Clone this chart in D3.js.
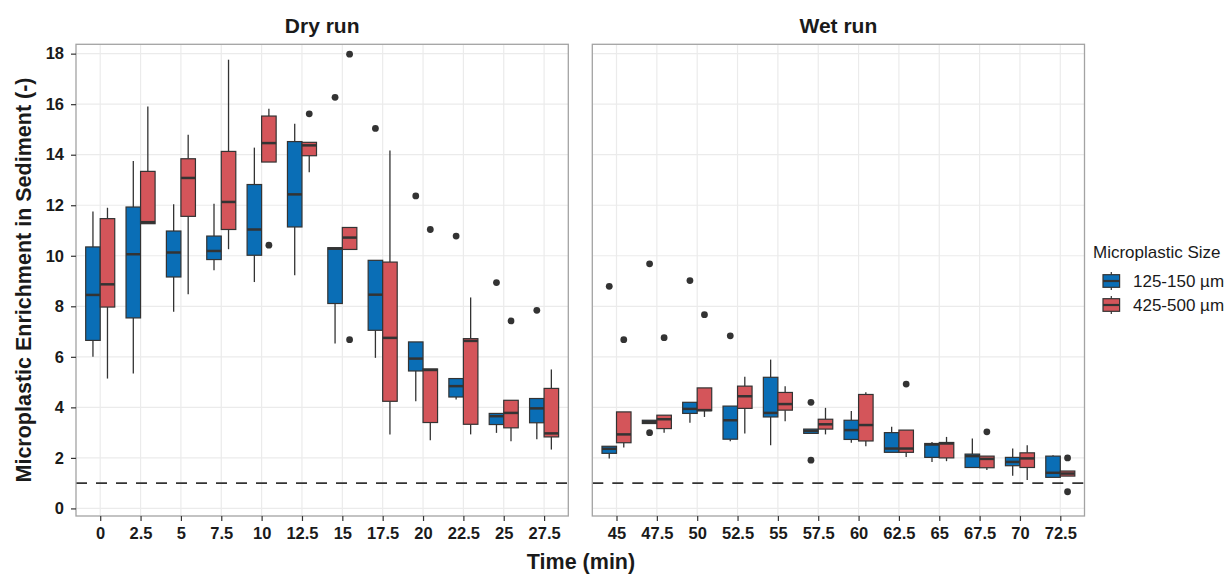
<!DOCTYPE html>
<html>
<head>
<meta charset="utf-8">
<script src="https://cdn.jsdelivr.net/npm/d3@7"></script>
<style>
  body { margin: 0; background: #fff; }
  svg { display: block; font-family: "Liberation Sans", Arial, sans-serif; }
</style>
</head>
<body>
<svg id="chart" width="1224" height="577"></svg>
<script>
// ---------------- DATA ----------------
const seriesNames = ["125-150 µm", "425-500 µm"];
const panelTitles = ["Dry run", "Wet run"];
const yTicks = [0, 2, 4, 6, 8, 10, 12, 14, 16, 18];
const referenceLevel = 1;

const dryTimes = ["0", "2.5", "5", "7.5", "10", "12.5", "15", "17.5", "20", "22.5", "25", "27.5"];
// [whisker low, q1, median, q3, whisker high]
const dryBlue = [
  [6.0, 6.65, 8.45, 10.35, 11.75],
  [5.34, 7.54, 10.06, 11.93, 13.75],
  [7.78, 9.16, 10.13, 10.98, 12.04],
  [9.43, 9.85, 10.19, 10.78, 12.06],
  [8.96, 10.02, 11.04, 12.82, 14.28],
  [9.23, 11.14, 12.43, 14.52, 15.23],
  [6.53, 8.11, 10.28, 10.32, 10.32],
  [5.96, 7.05, 8.46, 9.82, 9.82],
  [4.24, 5.44, 5.93, 6.59, 6.59],
  [4.31, 4.41, 4.84, 5.14, 5.14],
  [2.99, 3.32, 3.65, 3.76, 3.76],
  [2.74, 3.39, 3.96, 4.35, 4.35]
];
const dryRed = [
  [5.14, 7.97, 8.87, 11.47, 11.9],
  [11.27, 11.27, 11.33, 13.34, 15.91],
  [8.48, 11.56, 13.08, 13.84, 14.79],
  [10.26, 11.04, 12.13, 14.13, 17.76],
  [13.71, 13.71, 14.46, 15.53, 15.82],
  [13.31, 13.96, 14.37, 14.49, 14.49],
  [10.25, 10.25, 10.72, 11.12, 11.12],
  [2.93, 4.24, 6.75, 9.75, 14.17],
  [2.7, 3.4, 5.48, 5.52, 5.52],
  [2.93, 3.33, 6.63, 6.72, 8.35],
  [2.66, 3.19, 3.78, 4.28, 4.28],
  [2.33, 2.83, 2.97, 4.75, 5.5]
];
const dryBlueOut = [[], [], [], [], [], [], [16.27], [15.04], [12.37], [10.78], [8.94], [7.84]];
const dryRedOut  = [[], [], [], [], [10.42], [15.62], [17.98, 6.68], [], [11.04], [], [7.42], []];

const wetTimes = ["45", "47.5", "50", "52.5", "55", "57.5", "60", "62.5", "65", "67.5", "70", "72.5"];
const wetBlue = [
  [1.98, 2.18, 2.36, 2.46, 2.46],
  [3.36, 3.36, 3.43, 3.49, 3.49],
  [3.39, 3.76, 3.94, 4.2, 4.2],
  [2.66, 2.74, 3.49, 4.05, 4.05],
  [2.5, 3.62, 3.78, 5.19, 5.89],
  [2.97, 2.97, 3.07, 3.14, 3.14],
  [2.6, 2.73, 3.1, 3.49, 3.86],
  [2.22, 2.22, 2.37, 3.0, 3.23],
  [1.84, 2.02, 2.53, 2.57, 2.63],
  [1.62, 1.62, 2.07, 2.15, 2.77],
  [1.29, 1.69, 1.84, 2.02, 2.37],
  [1.23, 1.23, 1.41, 2.07, 2.1]
];
const wetRed = [
  [2.41, 2.6, 2.93, 3.82, 3.82],
  [3.0, 3.16, 3.53, 3.69, 3.69],
  [3.62, 3.87, 3.89, 4.77, 4.77],
  [2.97, 3.96, 4.44, 4.84, 5.21],
  [3.45, 3.89, 4.13, 4.59, 4.84],
  [2.93, 3.14, 3.33, 3.53, 3.98],
  [2.46, 2.67, 3.3, 4.51, 4.6],
  [2.04, 2.22, 2.37, 3.1, 3.1],
  [1.87, 2.0, 2.57, 2.61, 2.83],
  [1.52, 1.61, 1.96, 2.07, 2.07],
  [1.12, 1.62, 1.98, 2.2, 2.5],
  [1.28, 1.28, 1.38, 1.48, 1.48]
];
const wetBlueOut = [[8.79], [9.68, 3.0], [9.02], [6.83], [], [4.2, 1.91], [], [], [], [], [], []];
const wetRedOut  = [[6.68], [6.76], [7.67], [], [], [], [], [4.92], [], [3.03], [], [2.0, 0.66]];

// ---------------- STYLE ----------------
const colors = ["#0A6EB6", "#D4555A"];
const ink = "#333333";
const textColor = "#1a1a1a";
const gridColor = "#EBEBEB";
const borderColor = "#A3A3A3";
const FONT = "Liberation Sans, Arial, sans-serif";

const svg = d3.select("#chart");
const panelTop = 44.3, panelBottom = 516;
const y = d3.scaleLinear().domain([-0.3, 18.37]).range([panelBottom, panelTop]);

const panels = [
  { title: panelTitles[0], times: dryTimes, series: [dryBlue, dryRed], outs: [dryBlueOut, dryRedOut], x0: 76, x1: 568.3 },
  { title: panelTitles[1], times: wetTimes, series: [wetBlue, wetRed], outs: [wetBlueOut, wetRedOut], x0: 592.3, x1: 1084.5 }
];

panels.forEach((p, pi) => {
  const x = d3.scalePoint().domain(p.times).range([p.x0, p.x1]).padding(0.6);
  const step = x.step();
  const bw = step * 0.36;
  const g = svg.append("g");

  g.append("rect").attr("x", p.x0).attr("y", panelTop).attr("width", p.x1 - p.x0).attr("height", panelBottom - panelTop).attr("fill", "#fff");

  g.selectAll(".hg").data(yTicks).join("line")
    .attr("x1", p.x0).attr("x2", p.x1)
    .attr("y1", d => y(d)).attr("y2", d => y(d))
    .attr("stroke", gridColor).attr("stroke-width", 1.2);
  g.selectAll(".vg").data(p.times).join("line")
    .attr("x1", d => x(d)).attr("x2", d => x(d))
    .attr("y1", panelTop).attr("y2", panelBottom)
    .attr("stroke", gridColor).attr("stroke-width", 1.2);

  g.append("line")
    .attr("x1", p.x0).attr("x2", p.x1)
    .attr("y1", y(referenceLevel)).attr("y2", y(referenceLevel))
    .attr("stroke", ink).attr("stroke-width", 1.7)
    .attr("stroke-dasharray", "11,9");

  p.series.forEach((ser, si) => {
    const off = (si === 0 ? -1 : 1) * bw / 2;
    const bg = g.append("g");
    ser.forEach((s, i) => {
      const cx = x(p.times[i]) + off;
      const [lo, q1, med, q3, hi] = s;
      bg.append("line").attr("x1", cx).attr("x2", cx).attr("y1", y(hi)).attr("y2", y(q3))
        .attr("stroke", ink).attr("stroke-width", 1.3);
      bg.append("line").attr("x1", cx).attr("x2", cx).attr("y1", y(q1)).attr("y2", y(lo))
        .attr("stroke", ink).attr("stroke-width", 1.3);
      bg.append("rect").attr("x", cx - bw / 2).attr("y", y(q3))
        .attr("width", bw).attr("height", Math.max(0.5, y(q1) - y(q3)))
        .attr("fill", colors[si]).attr("stroke", ink).attr("stroke-width", 1.2);
      bg.append("line").attr("x1", cx - bw / 2).attr("x2", cx + bw / 2)
        .attr("y1", y(med)).attr("y2", y(med))
        .attr("stroke", ink).attr("stroke-width", 2.5);
      p.outs[si][i].forEach(v => {
        bg.append("circle").attr("cx", cx).attr("cy", y(v)).attr("r", 3.4).attr("fill", ink);
      });
    });
  });

  g.append("rect").attr("x", p.x0).attr("y", panelTop).attr("width", p.x1 - p.x0).attr("height", panelBottom - panelTop)
    .attr("fill", "none").attr("stroke", borderColor).attr("stroke-width", 1.3);

  const xa = g.append("g").attr("transform", `translate(0,${panelBottom})`)
    .call(d3.axisBottom(x).tickSize(5).tickPadding(6));
  xa.select(".domain").remove();
  xa.selectAll(".tick line").attr("stroke", ink).attr("stroke-width", 1.2);
  xa.selectAll(".tick text").attr("fill", textColor).attr("font-size", 16.5).attr("font-weight", "bold")
    .attr("font-family", FONT);

  if (pi === 0) {
    const ya = g.append("g").attr("transform", `translate(${p.x0},0)`)
      .call(d3.axisLeft(y).tickValues(yTicks).tickSize(5).tickPadding(7));
    ya.select(".domain").remove();
    ya.selectAll(".tick line").attr("stroke", ink).attr("stroke-width", 1.2);
    ya.selectAll(".tick text").attr("fill", textColor).attr("font-size", 16.5).attr("font-weight", "bold")
      .attr("font-family", FONT);
  }

  g.append("text").attr("x", (p.x0 + p.x1) / 2).attr("y", 32.5)
    .attr("text-anchor", "middle").attr("font-size", 21).attr("font-weight", "bold")
    .attr("fill", textColor).text(p.title);
});

svg.append("text").attr("x", 581).attr("y", 569)
  .attr("text-anchor", "middle").attr("font-size", 21.5).attr("font-weight", "bold")
  .attr("fill", textColor).text("Time (min)");
svg.append("text").attr("transform", "translate(31,280) rotate(-90)")
  .attr("text-anchor", "middle").attr("font-size", 21.5).attr("font-weight", "bold")
  .attr("fill", textColor).text("Microplastic Enrichment in Sediment (-)");

const lg = svg.append("g");
lg.append("text").attr("x", 1093).attr("y", 257.5).attr("font-size", 17).attr("fill", textColor).text("Microplastic Size");
seriesNames.forEach((n, i) => {
  const cy = 281 + i * 24;
  const kx = 1103;
  lg.append("line").attr("x1", kx + 8.3).attr("x2", kx + 8.3).attr("y1", cy - 9).attr("y2", cy + 9)
    .attr("stroke", ink).attr("stroke-width", 1.2);
  lg.append("rect").attr("x", kx).attr("y", cy - 6.3).attr("width", 16.6).attr("height", 12.6)
    .attr("fill", colors[i]).attr("stroke", ink).attr("stroke-width", 1.2);
  lg.append("line").attr("x1", kx).attr("x2", kx + 16.6).attr("y1", cy).attr("y2", cy)
    .attr("stroke", ink).attr("stroke-width", 2.2);
  lg.append("text").attr("x", 1133).attr("y", cy + 6).attr("font-size", 17).attr("fill", textColor).text(n);
});
</script>
</body>
</html>
